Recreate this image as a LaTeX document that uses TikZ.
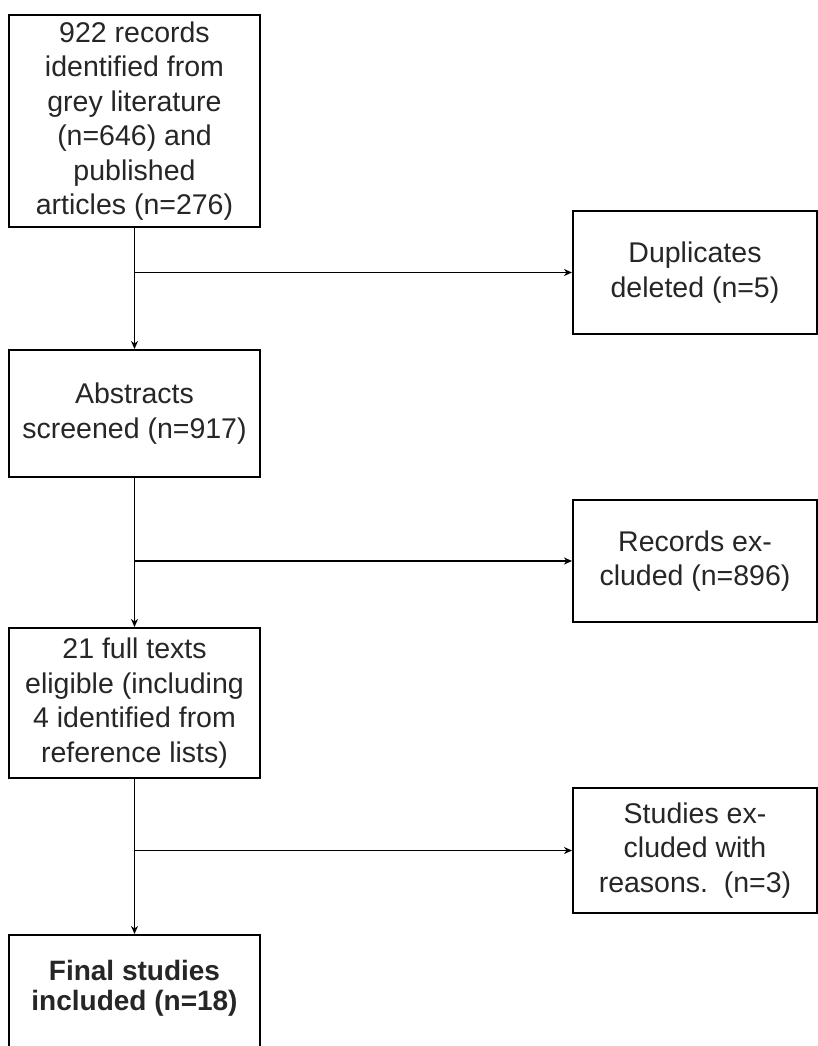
\documentclass[tikz,border=0pt]{standalone}
\usepackage{fontspec}
\setmainfont{Liberation Sans}
\usetikzlibrary{arrows.meta}
\definecolor{txt}{RGB}{38,38,38}
\tikzset{
  box/.style={draw=black, line width=2pt, rectangle, inner sep=0pt, align=center,
    text=txt, font=\fontsize{28.5}{34.5}\selectfont, minimum width=251pt},
  rbox/.style={box, minimum width=244pt},
  arr/.style={draw=black, line width=1.8pt, -{Stealth[length=8pt,width=7pt,inset=2.5pt]}},
  ln/.style={draw=black, line width=2pt}
}
\begin{document}
\begin{tikzpicture}[x=1pt,y=-1pt]
\useasboundingbox (0,0) rectangle (818,1046);
\clip (0,0) rectangle (818,1046);
\fill[white] (0,0) rectangle (818,1046);

\node[box, minimum height=212pt] (b1) at (134.5,121)
  {922 records\\identified from\\grey literature\\(n=646) and\\published\\articles (n=276)};
\node[rbox, minimum height=123pt] (d1) at (695,272.5)
  {Duplicates\\deleted (n=5)};
\node[box, minimum height=127pt] (b2) at (134.5,413.5)
  {Abstracts\\screened (n=917)};
\node[rbox, minimum height=122pt] (d2) at (695,561)
  {Records ex-\\cluded (n=896)};
\node[box, minimum height=150pt] (b3) at (134.5,703)
  {21 full texts\\eligible (including\\4 identified from\\reference lists)};
\node[rbox, minimum height=125pt] (d3) at (695,850.5)
  {Studies ex-\\cluded with\\reasons.\ \ (n=3)};
\node[box, minimum height=150pt, anchor=north] (b4) at (134.5,934) {};
\node[align=center, inner sep=0pt, text=txt, font=\fontsize{28}{30.5}\selectfont\bfseries] (b4t) at (134.5,988)
  {Final studies\\included (n=18)};

\draw[arr] (b1.south) -- (b2.north);
\draw[arr] (b2.south) -- (b3.north);
\draw[arr] (b3.south) -- (b4.north);

\coordinate (j1) at (b1.south |- d1.west);
\coordinate (j2) at (b2.south |- d2.west);
\coordinate (j3) at (b3.south |- d3.west);
\draw[arr] (j1) -- (d1.west);
\draw[arr] (j2) -- (d2.west);
\draw[arr] (j3) -- (d3.west);
\end{tikzpicture}
\end{document}
